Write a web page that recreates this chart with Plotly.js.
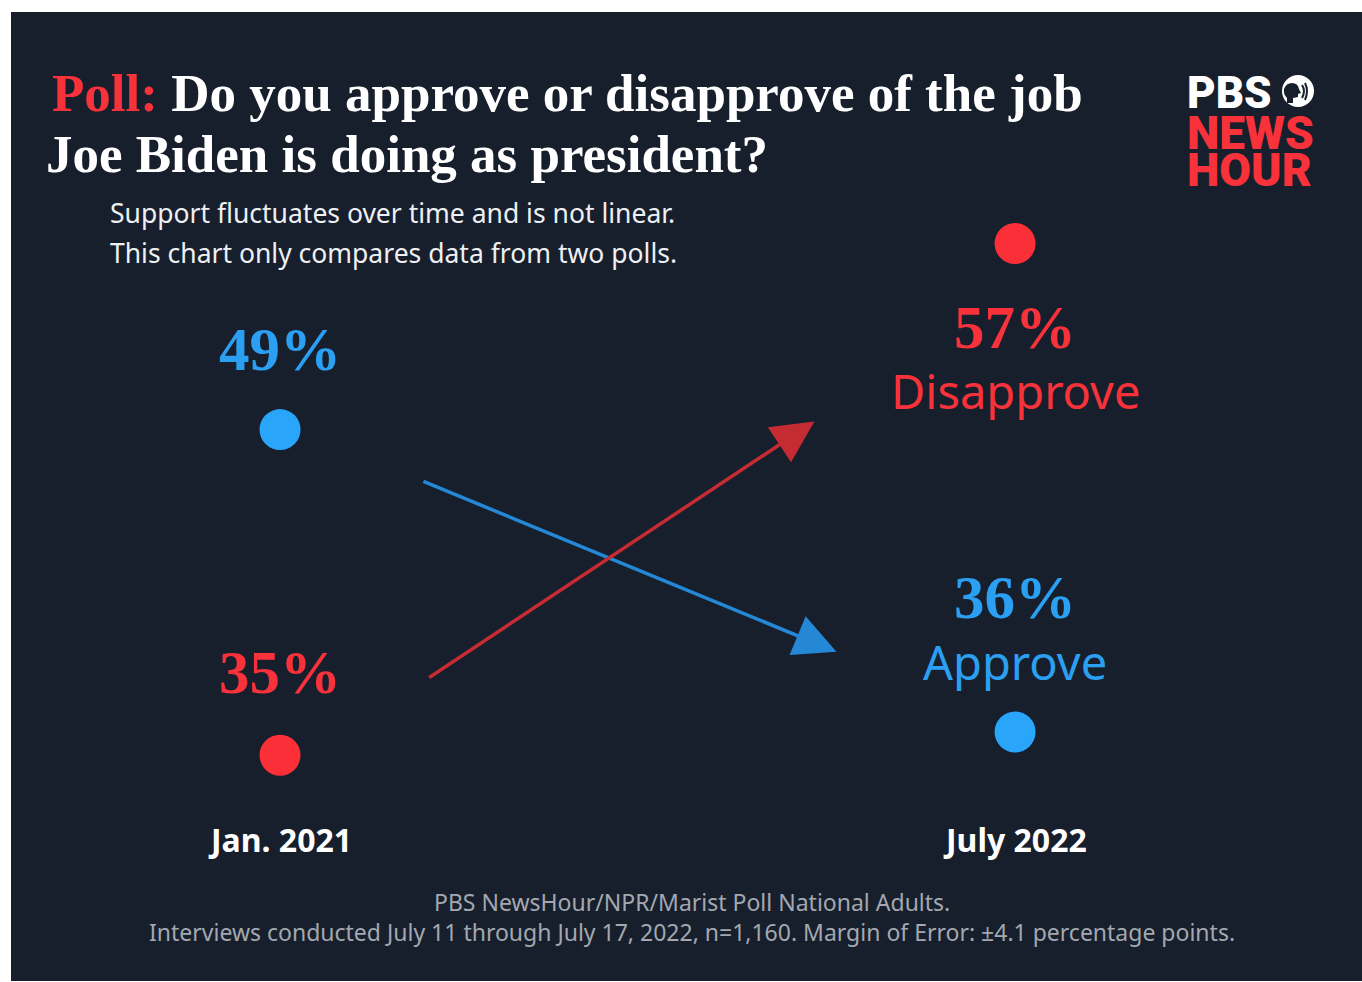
<!DOCTYPE html>
<html>
<head>
<meta charset="utf-8">
<script src="https://cdn.plot.ly/plotly-3.0.1.min.js"></script>
<style>html,body{margin:0;padding:0;background:#fff;}#chart{width:1362px;height:982px;}</style>
</head>
<body>
<div id="chart"></div>
<script>
// ---- data ----
const periods = ["Jan. 2021", "July 2022"];
const periodX = [0, 1];
const approve = [49, 36];
const disapprove = [35, 57];
const seriesNames = ["Approve", "Disapprove"];
// decorative trend arrows, [x, value] tail and tip
const approveArrowTail = [0.193, 46.8];
const approveArrowTip = [0.757, 39.45];
const disapproveArrowTail = [0.201, 38.3];
const disapproveArrowTip = [0.727, 49.35];

const BG = "#171f2d";
const RED = "#fb2f37";
const BLUE = "#29a5fa";
const RED_TXT = "#f7323a";
const BLUE_TXT = "#2b9ff2";
const W = 1362, H = 982;
const px = v => v / W;
const py = v => 1 - v / H;

const traces = [
  {x: periodX, y: approve, name: seriesNames[0], type: "scatter", mode: "markers",
   marker: {size: 41, color: BLUE}, hoverinfo: "skip", cliponaxis: false},
  {x: periodX, y: disapprove, name: seriesNames[1], type: "scatter", mode: "markers",
   marker: {size: 41, color: RED}, hoverinfo: "skip", cliponaxis: false}
];

const serif = "Liberation Serif";
const sans = "Noto Sans";
const ann = [];
// title
ann.push({xref: "paper", yref: "paper", x: px(50), y: py(93), xanchor: "left", yanchor: "middle", showarrow: false,
  text: '<span style="color:' + RED_TXT + '">Poll:</span> Do you approve or disapprove of the job',
  font: {family: serif, size: 53, color: "#ffffff", weight: 700}});
ann.push({xref: "paper", yref: "paper", x: px(44), y: py(154), xanchor: "left", yanchor: "middle", showarrow: false,
  text: "Joe Biden is doing as president?",
  font: {family: serif, size: 53, color: "#ffffff", weight: 700}});
// subtitle
ann.push({xref: "paper", yref: "paper", x: px(108), y: py(213), xanchor: "left", yanchor: "middle", showarrow: false,
  text: "Support fluctuates over time and is not linear.", font: {family: sans, size: 26.5, color: "#eef0f3"}});
ann.push({xref: "paper", yref: "paper", x: px(108), y: py(253), xanchor: "left", yanchor: "middle", showarrow: false,
  text: "This chart only compares data from two polls.", font: {family: sans, size: 26.5, color: "#eef0f3"}});
// logo
ann.push({xref: "paper", yref: "paper", x: px(1185), y: py(93), xanchor: "left", yanchor: "middle", showarrow: false,
  height: 34, text: "PBS", font: {family: "Roboto", size: 44, color: "#ffffff", weight: 900}});
ann.push({xref: "paper", yref: "paper", x: px(1185), y: py(133), xanchor: "left", yanchor: "middle", showarrow: false,
  height: 34, text: "NEWS", font: {family: "Roboto", size: 46, color: RED_TXT, weight: 900}});
ann.push({xref: "paper", yref: "paper", x: px(1185), y: py(170), xanchor: "left", yanchor: "middle", showarrow: false,
  height: 34, text: "HOUR", font: {family: "Roboto", size: 46, color: RED_TXT, weight: 900}});

// period labels
periods.forEach((p, i) => {
  ann.push({xref: "x", yref: "paper", x: periodX[i], y: py(839), xanchor: "center", yanchor: "middle", showarrow: false,
    text: p, font: {family: sans, size: 32, color: "#ffffff", weight: 700}});
});
// value labels
ann.push({x: periodX[0], y: approve[0], yshift: 80, showarrow: false, text: approve[0] + "%",
  font: {family: serif, size: 61, color: BLUE_TXT, weight: 700}});
ann.push({x: periodX[0], y: disapprove[0], yshift: 83, showarrow: false, text: disapprove[0] + "%",
  font: {family: serif, size: 61, color: RED_TXT, weight: 700}});
ann.push({x: periodX[1], y: disapprove[1], yshift: -84, showarrow: false, text: disapprove[1] + "%",
  font: {family: serif, size: 61, color: RED_TXT, weight: 700}});
ann.push({x: periodX[1], y: disapprove[1], yshift: -147, showarrow: false, text: seriesNames[1],
  font: {family: sans, size: 47, color: RED_TXT}});
ann.push({x: periodX[1], y: approve[1], yshift: 134, showarrow: false, text: approve[1] + "%",
  font: {family: serif, size: 61, color: BLUE_TXT, weight: 700}});
ann.push({x: periodX[1], y: approve[1], yshift: 70, showarrow: false, text: seriesNames[0],
  font: {family: sans, size: 47, color: BLUE_TXT}});
// arrows
ann.push({x: approveArrowTip[0], y: approveArrowTip[1], ax: approveArrowTail[0], ay: approveArrowTail[1],
  axref: "x", ayref: "y", text: "", showarrow: true, arrowhead: 2, arrowsize: 2.4, arrowwidth: 3.5,
  arrowcolor: "#2488d6", standoff: 0, startstandoff: 0});
ann.push({x: disapproveArrowTip[0], y: disapproveArrowTip[1], ax: disapproveArrowTail[0], ay: disapproveArrowTail[1],
  axref: "x", ayref: "y", text: "", showarrow: true, arrowhead: 2, arrowsize: 2.4, arrowwidth: 3.5,
  arrowcolor: "#c42b32", standoff: 0, startstandoff: 0});
// footer
ann.push({xref: "paper", yref: "paper", x: px(692), y: py(902), xanchor: "center", yanchor: "middle", showarrow: false,
  text: "PBS NewsHour/NPR/Marist Poll National Adults.", font: {family: sans, size: 23, color: "#a3a8b0"}});
ann.push({xref: "paper", yref: "paper", x: px(692), y: py(932), xanchor: "center", yanchor: "middle", showarrow: false,
  text: "Interviews conducted July 11 through July 17, 2022, n=1,160. Margin of Error: ±4.1 percentage points.",
  font: {family: sans, size: 23, color: "#a3a8b0"}});

const P = (x, y) => px(x).toFixed(5) + "," + py(y).toFixed(5);
const cx = 1298, cy = 91;
const Q = (dx, dy) => P(cx + dx, cy + dy);
const headPath = "M" + Q(-11, 12) + " L" + Q(-11, 7) + " Q" + Q(-15, 3) + " " + Q(-14, -2) +
  " Q" + Q(-12, -8) + " " + Q(-6, -8) + " Q" + Q(0, -8) + " " + Q(1, -2) +
  " L" + Q(3, 2) + " L" + Q(0, 3) + " L" + Q(0, 6) + " L" + Q(-5, 7) + " L" + Q(-5, 12) + " Z";

const shapes = [
  {type: "rect", xref: "paper", yref: "paper", x0: px(11), x1: 1, y0: py(981), y1: py(12),
   fillcolor: BG, line: {width: 0}, layer: "below"},
  {type: "circle", xref: "paper", yref: "paper", x0: px(cx - 16), x1: px(cx + 16), y0: py(cy + 16), y1: py(cy - 16),
   fillcolor: "#ffffff", line: {width: 0}},
  {type: "path", xref: "paper", yref: "paper", path: headPath, fillcolor: BG, line: {width: 0}},
  {type: "path", xref: "paper", yref: "paper",
   path: "M" + Q(4, -6) + " Q" + Q(8, 0) + " " + Q(4, 7), line: {color: BG, width: 2}},
  {type: "path", xref: "paper", yref: "paper",
   path: "M" + Q(7, -8) + " Q" + Q(11, 0) + " " + Q(7, 9), line: {color: BG, width: 2}}
];

const layout = {
  width: W, height: H,
  margin: {l: 0, r: 0, t: 0, b: 0, pad: 0},
  paper_bgcolor: "#ffffff",
  plot_bgcolor: "rgba(0,0,0,0)",
  showlegend: false,
  xaxis: {range: [-0.381, 1.472], visible: false, fixedrange: true},
  yaxis: {range: [25.25, 67.47], visible: false, fixedrange: true},
  annotations: ann,
  shapes: shapes
};
Plotly.newPlot("chart", traces, layout, {displayModeBar: false, staticPlot: true});
</script>
</body>
</html>
